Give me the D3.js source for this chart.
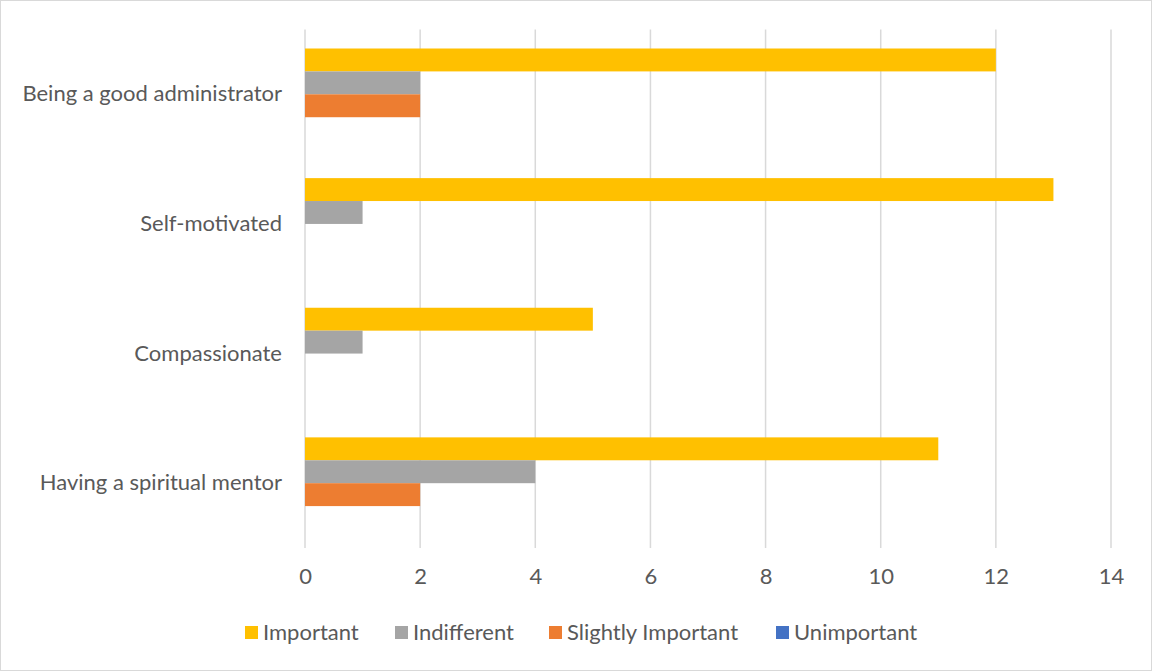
<!DOCTYPE html>
<html><head><meta charset="utf-8">
<script src="https://cdn.jsdelivr.net/npm/d3@7"></script>
<style>body{margin:0;background:#fff}svg{display:block}</style>
</head><body>
<script>
const categories = ["Being a good administrator","Self-motivated","Compassionate","Having a spiritual mentor"];
const seriesNames = ["Important","Indifferent","Slightly Important","Unimportant"];
const important = [12,13,5,11];
const indifferent = [2,1,1,4];
const slightlyImportant = [2,0,0,2];
const unimportant = [0,0,0,0];
const xTicks = [0,2,4,6,8,10,12,14];
const colors = ["#FFC000","#A5A5A5","#ED7D31","#4472C4"];
const seriesValues = [important, indifferent, slightlyImportant, unimportant];

const W=1152,H=671;
const svg=d3.select("body").append("svg").attr("width",W).attr("height",H);
svg.append("rect").attr("x",0.5).attr("y",0.5).attr("width",W-1).attr("height",H-1)
  .attr("fill","#fff").attr("stroke","#d9d9d9");
const font="Lato, 'Open Sans', sans-serif";
const fs=22;
const pLeft=305,pRight=1111,pTop=29.5,pBottom=548;
const x=d3.scaleLinear().domain([0,14]).range([pLeft,pRight]);
const y0=d3.scaleBand().domain(categories).range([pTop,pBottom]).padding(0);
const bw=y0.bandwidth();
const y1=d3.scaleBand().domain(seriesNames).range([19,bw-19]).padding(0);

// gridlines
svg.append("g").selectAll("line").data(xTicks).join("line")
  .attr("x1",d=>x(d)).attr("x2",d=>x(d)).attr("y1",pTop).attr("y2",pBottom)
  .attr("stroke","#d9d9d9").attr("stroke-width",1.5);

// bars
const g=svg.append("g");
categories.forEach((c,i)=>{
  seriesNames.forEach((s,j)=>{
    const v=seriesValues[j][i];
    g.append("rect").attr("x",x(0)).attr("y",y0(c)+y1(s))
      .attr("width",x(v)-x(0)).attr("height",y1.bandwidth()).attr("fill",colors[j]);
  });
});

// x axis
const xa=svg.append("g").attr("transform",`translate(0,${pBottom})`)
  .call(d3.axisBottom(x).tickValues(xTicks).tickSize(0).tickPadding(20));
xa.select(".domain").remove();
xa.selectAll("text").attr("font-family",font).attr("font-size",fs).attr("fill","#595959");

// y axis labels
const ya=svg.append("g").attr("transform",`translate(${pLeft},0)`)
  .call(d3.axisLeft(y0).tickSize(0).tickPadding(23));
ya.select(".domain").remove();
ya.selectAll("text").attr("font-family",font).attr("font-size",fs).attr("fill","#595959");

// legend
const legX=[245,395,549,776];
const lg=svg.append("g");
seriesNames.forEach((s,j)=>{
  lg.append("rect").attr("x",legX[j]).attr("y",626).attr("width",13).attr("height",13).attr("fill",colors[j]);
  lg.append("text").attr("x",legX[j]+18).attr("y",632).attr("dy","0.35em")
    .attr("font-family",font).attr("font-size",fs).attr("fill","#595959").text(s);
});
</script>
</body></html>
